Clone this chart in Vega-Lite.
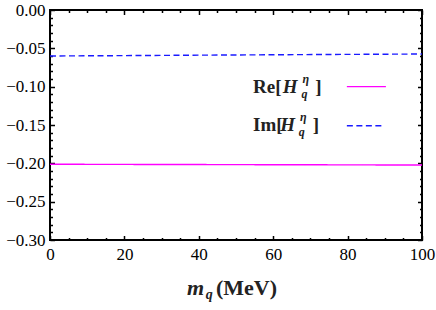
{
  "$schema": "https://vega.github.io/schema/vega-lite/v6.json",
  "width": 372,
  "height": 230,
  "autosize": {"type": "none"},
  "padding": {"left": 50, "top": 10, "right": 14, "bottom": 70},
  "background": "white",
  "config": {
    "view": {"stroke": "black", "strokeWidth": 2},
    "font": "Liberation Serif",
    "axis": {"domain": false, "ticks": false, "grid": true, "gridColor": "black", "gridOpacity": 1, "gridWidth": 1.5, "title": null, "labelColor": "black", "labelFont": "Liberation Serif", "labelFontSize": 17, "labelOverlap": false}
  },
  "datasets": {
    "lines": [
      {"m": 0, "v": -0.2012, "s": "Re"},
      {"m": 20, "v": -0.2014, "s": "Re"},
      {"m": 40, "v": -0.2016, "s": "Re"},
      {"m": 60, "v": -0.2018, "s": "Re"},
      {"m": 80, "v": -0.2020, "s": "Re"},
      {"m": 100, "v": -0.2022, "s": "Re"},
      {"m": 0, "v": -0.0600, "s": "Im"},
      {"m": 20, "v": -0.0595, "s": "Im"},
      {"m": 40, "v": -0.0589, "s": "Im"},
      {"m": 60, "v": -0.0584, "s": "Im"},
      {"m": 80, "v": -0.0579, "s": "Im"},
      {"m": 100, "v": -0.0574, "s": "Im"}
    ],
    "legendText": [
      {"t": "Re[", "x": 54.6, "y": -0.1083, "p": "main"},
      {"t": "H", "x": 62.6, "y": -0.1083, "p": "ital"},
      {"t": "η", "x": 67.9, "y": -0.1083, "p": "sup"},
      {"t": "q", "x": 67.6, "y": -0.1083, "p": "sub"},
      {"t": "]", "x": 71.3, "y": -0.1083, "p": "main"},
      {"t": "Im[", "x": 54.6, "y": -0.1578, "p": "main"},
      {"t": "H", "x": 61.9, "y": -0.1578, "p": "ital"},
      {"t": "η", "x": 67.2, "y": -0.1578, "p": "sup"},
      {"t": "q", "x": 66.9, "y": -0.1578, "p": "sub"},
      {"t": "]", "x": 70.6, "y": -0.1578, "p": "main"}
    ],
    "legendLines": [
      {"s": "Re", "x": 79.8, "x2": 90.3, "y": -0.100},
      {"s": "Im", "x": 79.8, "x2": 89.2, "y": -0.151}
    ],
    "titleText": [
      {"t": "m", "x": 36.8, "y": -0.3717, "p": "ital"},
      {"t": "q", "x": 41.9, "y": -0.3717, "p": "sub"},
      {"t": "(MeV)", "x": 44.6, "y": -0.3717, "p": "main"}
    ]
  },
  "layer": [
    {
      "data": {"name": "lines"},
      "mark": {"type": "line", "strokeWidth": 1.4, "clip": true},
      "encoding": {
        "x": {"field": "m", "type": "quantitative", "scale": {"domain": [0, 100], "nice": false, "zero": false},
              "axis": {"orient": "bottom", "tickCount": 100, "values": [0, 5, 10, 15, 20, 25, 30, 35, 40, 45, 50, 55, 60, 65, 70, 75, 80, 85, 90, 95, 100],
                       "labelPadding": 6, "labelFlush": false, "labelOverlap": false, "labelFont": "Liberation Serif", "labelFontSize": 17,
                       "labelExpr": "datum.value % 20 === 0 ? format(datum.value, 'd') : ''",
                       "gridDash": {"condition": {"test": "datum.value % 20 === 0", "value": [4.5, 221]}, "value": [2.5, 225]}}},
        "y": {"field": "v", "type": "quantitative", "scale": {"domain": [-0.3, 0], "nice": false, "zero": false},
              "axis": {"orient": "left", "tickCount": 100, "values": [-0.3, -0.29, -0.28, -0.27, -0.26, -0.25, -0.24, -0.23, -0.22, -0.21, -0.2, -0.19, -0.18, -0.17, -0.16, -0.15, -0.14, -0.13, -0.12, -0.11, -0.1, -0.09, -0.08, -0.07, -0.06, -0.05, -0.04, -0.03, -0.02, -0.01, 0],
                       "labelPadding": 5, "labelOverlap": false, "labelFlush": false, "labelFont": "Liberation Serif", "labelFontSize": 17,
                       "labelExpr": "indexof('05', slice(format(datum.value, '.2f'), -1)) < 0 ? '' : (datum.value < 0 ? '−' + format(-datum.value, '.2f') : format(datum.value, '.2f'))",
                       "gridDash": {"condition": {"test": "indexof('05', slice(format(datum.value, '.2f'), -1)) >= 0", "value": [4.5, 363]}, "value": [2.5, 367]}}},
        "color": {"field": "s", "type": "nominal", "scale": {"domain": ["Re", "Im"], "range": ["#ff00ff", "#1a1aff"]}, "legend": null},
        "strokeDash": {"field": "s", "type": "nominal", "scale": {"domain": ["Re", "Im"], "range": [[1, 0], [6, 3.5]]}, "legend": null}
      }
    },
    {
      "data": {"name": "legendLines"},
      "mark": {"type": "rule", "strokeWidth": 1.4},
      "encoding": {
        "x": {"field": "x", "type": "quantitative"},
        "x2": {"field": "x2"},
        "y": {"field": "y", "type": "quantitative"},
        "color": {"field": "s", "type": "nominal", "legend": null},
        "strokeDash": {"field": "s", "type": "nominal", "legend": null}
      }
    },
    {
      "data": {"name": "legendText"},
      "transform": [{"filter": "datum.p == 'main'"}],
      "mark": {"type": "text", "align": "left", "baseline": "alphabetic", "font": "Liberation Serif", "fontWeight": "bold", "fontSize": 19, "color": "#222"},
      "encoding": {
        "x": {"field": "x", "type": "quantitative"},
        "y": {"field": "y", "type": "quantitative"},
        "text": {"field": "t"}
      }
    },
    {
      "data": {"name": "legendText"},
      "transform": [{"filter": "datum.p == 'ital'"}],
      "mark": {"type": "text", "align": "left", "baseline": "alphabetic", "font": "Liberation Serif", "fontWeight": "bold", "fontStyle": "italic", "fontSize": 19, "color": "#222"},
      "encoding": {
        "x": {"field": "x", "type": "quantitative"},
        "y": {"field": "y", "type": "quantitative"},
        "text": {"field": "t"}
      }
    },
    {
      "data": {"name": "legendText"},
      "transform": [{"filter": "datum.p == 'sup'"}],
      "mark": {"type": "text", "align": "left", "baseline": "alphabetic", "dy": -10, "font": "Liberation Serif", "fontWeight": "bold", "fontStyle": "italic", "fontSize": 12, "color": "#222"},
      "encoding": {
        "x": {"field": "x", "type": "quantitative"},
        "y": {"field": "y", "type": "quantitative"},
        "text": {"field": "t"}
      }
    },
    {
      "data": {"name": "legendText"},
      "transform": [{"filter": "datum.p == 'sub'"}],
      "mark": {"type": "text", "align": "left", "baseline": "alphabetic", "dy": 5, "font": "Liberation Serif", "fontWeight": "bold", "fontStyle": "italic", "fontSize": 12, "color": "#222"},
      "encoding": {
        "x": {"field": "x", "type": "quantitative"},
        "y": {"field": "y", "type": "quantitative"},
        "text": {"field": "t"}
      }
    },
    {
      "data": {"name": "titleText"},
      "transform": [{"filter": "datum.p == 'main'"}],
      "mark": {"type": "text", "align": "left", "baseline": "alphabetic", "font": "Liberation Serif", "fontWeight": "bold", "fontSize": 22, "color": "#222"},
      "encoding": {
        "x": {"field": "x", "type": "quantitative"},
        "y": {"field": "y", "type": "quantitative"},
        "text": {"field": "t"}
      }
    },
    {
      "data": {"name": "titleText"},
      "transform": [{"filter": "datum.p == 'ital'"}],
      "mark": {"type": "text", "align": "left", "baseline": "alphabetic", "font": "Liberation Serif", "fontWeight": "bold", "fontStyle": "italic", "fontSize": 22, "color": "#222"},
      "encoding": {
        "x": {"field": "x", "type": "quantitative"},
        "y": {"field": "y", "type": "quantitative"},
        "text": {"field": "t"}
      }
    },
    {
      "data": {"name": "titleText"},
      "transform": [{"filter": "datum.p == 'sub'"}],
      "mark": {"type": "text", "align": "left", "baseline": "alphabetic", "dy": 4, "font": "Liberation Serif", "fontWeight": "bold", "fontStyle": "italic", "fontSize": 14, "color": "#222"},
      "encoding": {
        "x": {"field": "x", "type": "quantitative"},
        "y": {"field": "y", "type": "quantitative"},
        "text": {"field": "t"}
      }
    }
  ]
}
